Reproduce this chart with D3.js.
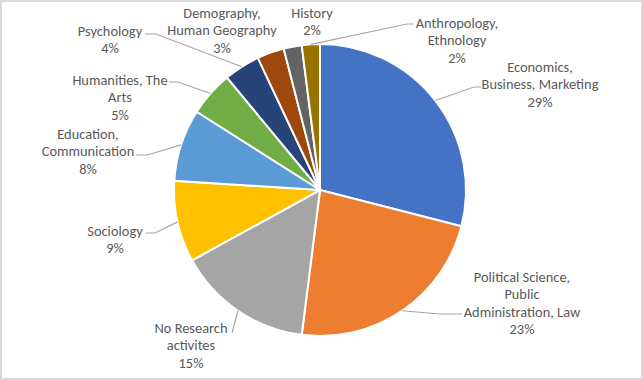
<!DOCTYPE html>
<html>
<head>
<meta charset="utf-8">
<script src="https://cdn.jsdelivr.net/npm/d3@7"></script>
<style>
  html, body { margin: 0; padding: 0; background: #fff; }
  svg { display: block; }
  text { font-family: Carlito, Lato, "Open Sans", sans-serif; }
</style>
</head>
<body>
<svg id="chart" width="643" height="380"></svg>
<script>
// ---- data ----
const categories = [
  "Economics, Business, Marketing",
  "Political Science, Public Administration, Law",
  "No Research activites",
  "Sociology",
  "Education, Communication",
  "Humanities, The Arts",
  "Psychology",
  "Demography, Human Geography",
  "History",
  "Anthropology, Ethnology"
];
const values = [29, 23, 15, 9, 8, 5, 4, 3, 2, 2];
const labelLines = [
  ["Economics,", "Business, Marketing"],
  ["Political Science,", "Public", "Administration, Law"],
  ["No Research", "activites"],
  ["Sociology"],
  ["Education,", "Communication"],
  ["Humanities, The", "Arts"],
  ["Psychology"],
  ["Demography,", "Human Geography"],
  ["History"],
  ["Anthropology,", "Ethnology"]
];
const colors = ["#4472C4", "#ED7D31", "#A5A5A5", "#FFC000", "#5B9BD5",
                "#70AD47", "#264478", "#9E480E", "#636363", "#997300"];

// ---- layout (label placement, leader line ends) ----
const labelLayout = [
  { x: 540, y: 67,  leader: [[474, 87], [481, 87]] },
  { x: 522, y: 277, leader: [[440, 314], [462, 314]] },
  { x: 191, y: 328, leader: [[232, 333], [232, 333]] },
  { x: 115, y: 231, leader: [[155, 233], [146, 233]] },
  { x: 88,  y: 134, leader: [[147, 155], [136, 155]] },
  { x: 120, y: 80,  leader: [[178, 82], [169, 82]] },
  { x: 110, y: 31,  leader: [[156, 34], [145, 34]] },
  { x: 222, y: 13,  leader: null },
  { x: 312, y: 13,  leader: null },
  { x: 457, y: 23,  leader: [[407, 24], [414, 24]] }
];

const W = 643, H = 380;
const cx = 320, cy = 190, R = 146;
const lineH = 17.4;
const svg = d3.select("#chart");

svg.append("rect")
  .attr("x", 1).attr("y", 1).attr("width", W - 2).attr("height", H - 2)
  .attr("fill", "#fff").attr("stroke", "#D9D9D9").attr("stroke-width", 2);

const data = values.map((v, i) => ({ name: categories[i], value: v, i }));
const pie = d3.pie().value(d => d.value).sort(null);
const arcs = pie(data);
const arc = d3.arc().innerRadius(0).outerRadius(R);

const g = svg.append("g").attr("transform", `translate(${cx},${cy})`);
g.selectAll("path").data(arcs).join("path")
  .attr("d", arc)
  .attr("fill", d => colors[d.data.i])
  .attr("stroke", "#fff")
  .attr("stroke-width", 2)
  .attr("stroke-linejoin", "round");

// leader lines
arcs.forEach(a => {
  const L = labelLayout[a.data.i];
  if (!L.leader) return;
  const mid = (a.startAngle + a.endAngle) / 2;
  const sx = cx + R * Math.sin(mid), sy = cy - R * Math.cos(mid);
  const pts = [[sx, sy], L.leader[0], L.leader[1]];
  svg.append("path")
    .attr("d", d3.line()(pts))
    .attr("fill", "none")
    .attr("stroke", "#A6A6A6")
    .attr("stroke-width", 1.2);
});

// labels
const total = d3.sum(values);
arcs.forEach(a => {
  const i = a.data.i;
  const L = labelLayout[i];
  const lines = labelLines[i].concat([Math.round(values[i] / total * 100) + "%"]);
  const t = svg.append("text")
    .attr("text-anchor", "middle")
    .attr("fill", "#595959")
    .attr("font-size", 14.4);
  lines.forEach((ln, k) => {
    t.append("tspan")
      .attr("x", L.x)
      .attr("y", L.y + k * lineH)
      .attr("dy", "0.35em")
      .text(ln);
  });
});
</script>
</body>
</html>
